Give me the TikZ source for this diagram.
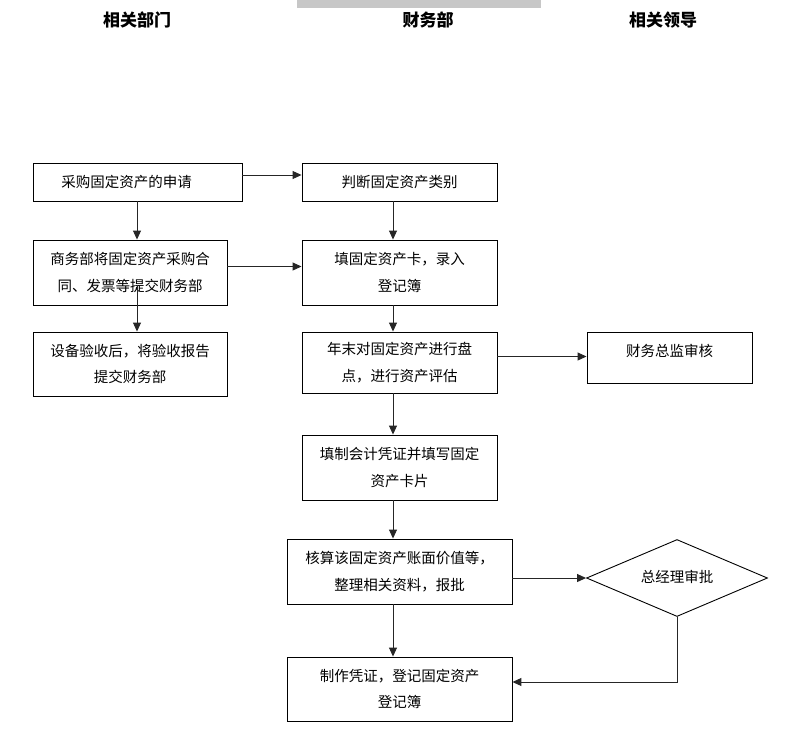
\documentclass[tikz,border=0pt]{standalone}
\usepackage{fontspec}
\newfontfamily\cjk{Noto Sans CJK SC}
\usetikzlibrary{shapes.geometric,arrows.meta}
\begin{document}
\begin{tikzpicture}[x=1pt,y=-1pt,
  box/.style={draw=black,line width=0.9pt,fill=white,inner sep=0pt,align=center,
    font=\cjk\fontsize{14.5}{26.5}\selectfont},
  head/.style={font=\cjk\bfseries\fontsize{17}{20}\selectfont,inner sep=0pt},
  arr/.style={draw=black!85,line width=1pt,-{Triangle[length=9pt,width=8pt]}}]
\useasboundingbox (0,0) rectangle (787,732);
\fill[black!22] (297,0) rectangle (541,7.5);
% headers
\node[head] (h1) at (137,20) {相关部门};
\node[head] (h2) at (428,20) {财务部};
\node[head] (h3) at (663,20) {相关领导};
% left column
\node[box,minimum width=209pt,minimum height=38pt] (a1) at (137.5,182) {采购固定资产的申请\hspace{22pt}};
\node[box,minimum width=194pt,minimum height=65pt] (a2) at (130,272.5) {商务部将固定资产采购合\\同、发票等提交财务部};
\node[box,minimum width=194pt,minimum height=64pt] (a3) at (130,364) {设备验收后，将验收报告\\提交财务部};
% middle column
\node[box,minimum width=195pt,minimum height=38pt] (b1) at (399.5,182) {判断固定资产类别};
\node[box,minimum width=195pt,minimum height=65pt] (b2) at (399.5,272.5) {填固定资产卡，录入\\登记簿};
\node[box,minimum width=195pt,minimum height=61pt] (b3) at (399.5,362.5) {年末对固定资产进行盘\\点，进行资产评估};
\node[box,minimum width=195pt,minimum height=65pt] (b4) at (399.5,467.5) {填制会计凭证并填写固定\\资产卡片};
\node[box,minimum width=225pt,minimum height=65pt] (b5) at (399.5,571.5) {核算该固定资产账面价值等，\\整理相关资料，报批};
\node[box,minimum width=225pt,minimum height=64pt] (b6) at (399.5,689) {制作凭证，登记固定资产\\登记簿};
% right column
\node[box,minimum width=165pt,minimum height=51pt,text depth=14pt] (c1) at (669.5,357.5) {财务总监审核};
\node[box,diamond,aspect=2.35,minimum width=181pt,minimum height=77pt,inner sep=0pt] (c2) at (677,578) {\raisebox{3pt}{总经理审批}};
% connectors
\draw[arr] (a1.south -| 137,0) -- (a2.north -| 137,0);
\coordinate (a2in) at (137,285);
\draw[arr] (a2in) -- (a3.north -| a2in);
\draw[arr] (a1.east |- 0,175) -- (b1.west |- 0,175);
\draw[arr] (a2.east |- 0,266.5) -- (b2.west |- 0,266.5);
\draw[arr] (b1.south -| 393,0) -- (b2.north -| 393,0);
\draw[arr] (b2.south -| 393,0) -- (b3.north -| 393,0);
\draw[arr] (b3.south -| 393,0) -- (b4.north -| 393,0);
\draw[arr] (b4.south -| 393,0) -- (b5.north -| 393,0);
\draw[arr] (b5.south -| 393,0) -- (b6.north -| 393,0);
\draw[arr] (b3.east |- 0,356.5) -- (c1.west |- 0,356.5);
\draw[arr] (b5.east |- c2.west) -- (c2.west);
\draw[arr] (c2.south) |- (b6.east |- 0,682);
\end{tikzpicture}
\end{document}
